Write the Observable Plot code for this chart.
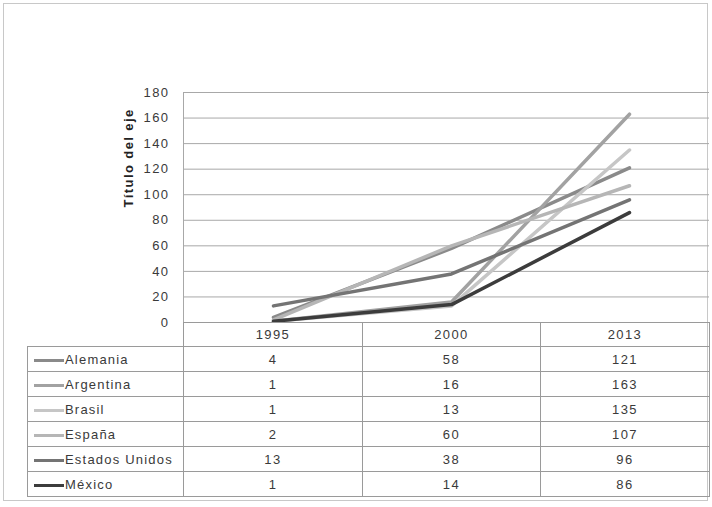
<!DOCTYPE html>
<html><head><meta charset="utf-8">
<script src="https://cdn.jsdelivr.net/npm/d3@7"></script>
<script src="https://cdn.jsdelivr.net/npm/@observablehq/plot@0.6"></script>
<style>
body{margin:0;background:#fff;font-family:"Liberation Sans",Arial,sans-serif;}
#wrap{position:relative;width:712px;height:507px;overflow:hidden;}
#border{position:absolute;left:3px;top:3px;width:705px;height:498px;border:1px solid #c8c8c8;box-sizing:border-box;}
#plot{position:absolute;left:0;top:0;}
table{position:absolute;left:27px;top:322px;border-collapse:collapse;font-size:13px;letter-spacing:1.4px;color:#3a3a3a;table-layout:fixed;}
td{border:1px solid #9a9a9a;height:24px;padding:0;text-align:center;}
td.name{text-align:left;white-space:nowrap;letter-spacing:1.2px;}
tr.head td{height:23px;}
tr.head td.blank{border:none;}
.sw{display:inline-block;width:30px;height:0;border-top:3px solid;vertical-align:middle;margin:0 1px 0 6px;}
</style></head>
<body>
<div id="wrap"><div id="border"></div><div id="plot"></div><table id="tbl"></table></div>
<script>
const years = ["1995", "2000", "2013"];
const countries = ["Alemania", "Argentina", "Brasil", "España", "Estados Unidos", "México"];
const alemania = [4, 58, 121];
const argentina = [1, 16, 163];
const brasil = [1, 13, 135];
const espana = [2, 60, 107];
const estadosUnidos = [13, 38, 96];
const mexico = [1, 14, 86];
const colors = ["#8a8a8a", "#a2a2a2", "#c6c6c6", "#b6b6b6", "#747474", "#3c3c3c"];
const yTicks = [0, 20, 40, 60, 80, 100, 120, 140, 160, 180];
const axisTitle = "Título del eje";

const series = [alemania, argentina, brasil, espana, estadosUnidos, mexico];
const data = [];
countries.forEach((c, i) => years.forEach((y, j) => data.push({country: c, year: y, value: series[i][j]})));

const chart = Plot.plot({
  width: 712, height: 346,
  marginLeft: 183, marginRight: 3, marginTop: 92, marginBottom: 24,
  style: {fontFamily: "Liberation Sans, Arial, sans-serif", fontSize: "13px", color: "#3a3a3a", overflow: "visible", letterSpacing: "1.4px"},
  x: {type: "point", domain: years, range: [272, 629], padding: 0, axis: null},
  y: {domain: [0, 180]},
  color: {domain: countries, range: colors},
  marks: [
    Plot.gridY(yTicks, {stroke: "#a8a8a8", strokeOpacity: 1}),
    Plot.axisY(yTicks, {tickSize: 0, tickPadding: 14, label: null, fill: "#3a3a3a", fontSize: 13}),
    Plot.frame({anchor: "left", stroke: "#a8a8a8"}),
    Plot.text([axisTitle], {frameAnchor: "left", dx: -55, rotate: -90, fontWeight: "bold", fontSize: 13, fill: "#222"}),
    Plot.lineY(data, {x: "year", y: "value", z: "country", stroke: "country", strokeWidth: 3.5, strokeLinejoin: "round"})
  ]
});
document.getElementById("plot").appendChild(chart);

const tbl = document.getElementById("tbl");
const colg = document.createElement("colgroup");
[156, 179, 178, 169].forEach(w => { const c = document.createElement("col"); c.style.width = w + "px"; colg.appendChild(c); });
tbl.appendChild(colg);
const head = document.createElement("tr"); head.className = "head";
const b = document.createElement("td"); b.className = "blank"; head.appendChild(b);
years.forEach(y => { const td = document.createElement("td"); td.textContent = y; head.appendChild(td); });
tbl.appendChild(head);
countries.forEach((c, i) => {
  const tr = document.createElement("tr");
  const td = document.createElement("td"); td.className = "name";
  const sw = document.createElement("span"); sw.className = "sw"; sw.style.borderTopColor = colors[i];
  td.appendChild(sw); td.appendChild(document.createTextNode(c));
  tr.appendChild(td);
  series[i].forEach(v => { const d = document.createElement("td"); d.textContent = v; tr.appendChild(d); });
  tbl.appendChild(tr);
});
</script>
</body></html>
